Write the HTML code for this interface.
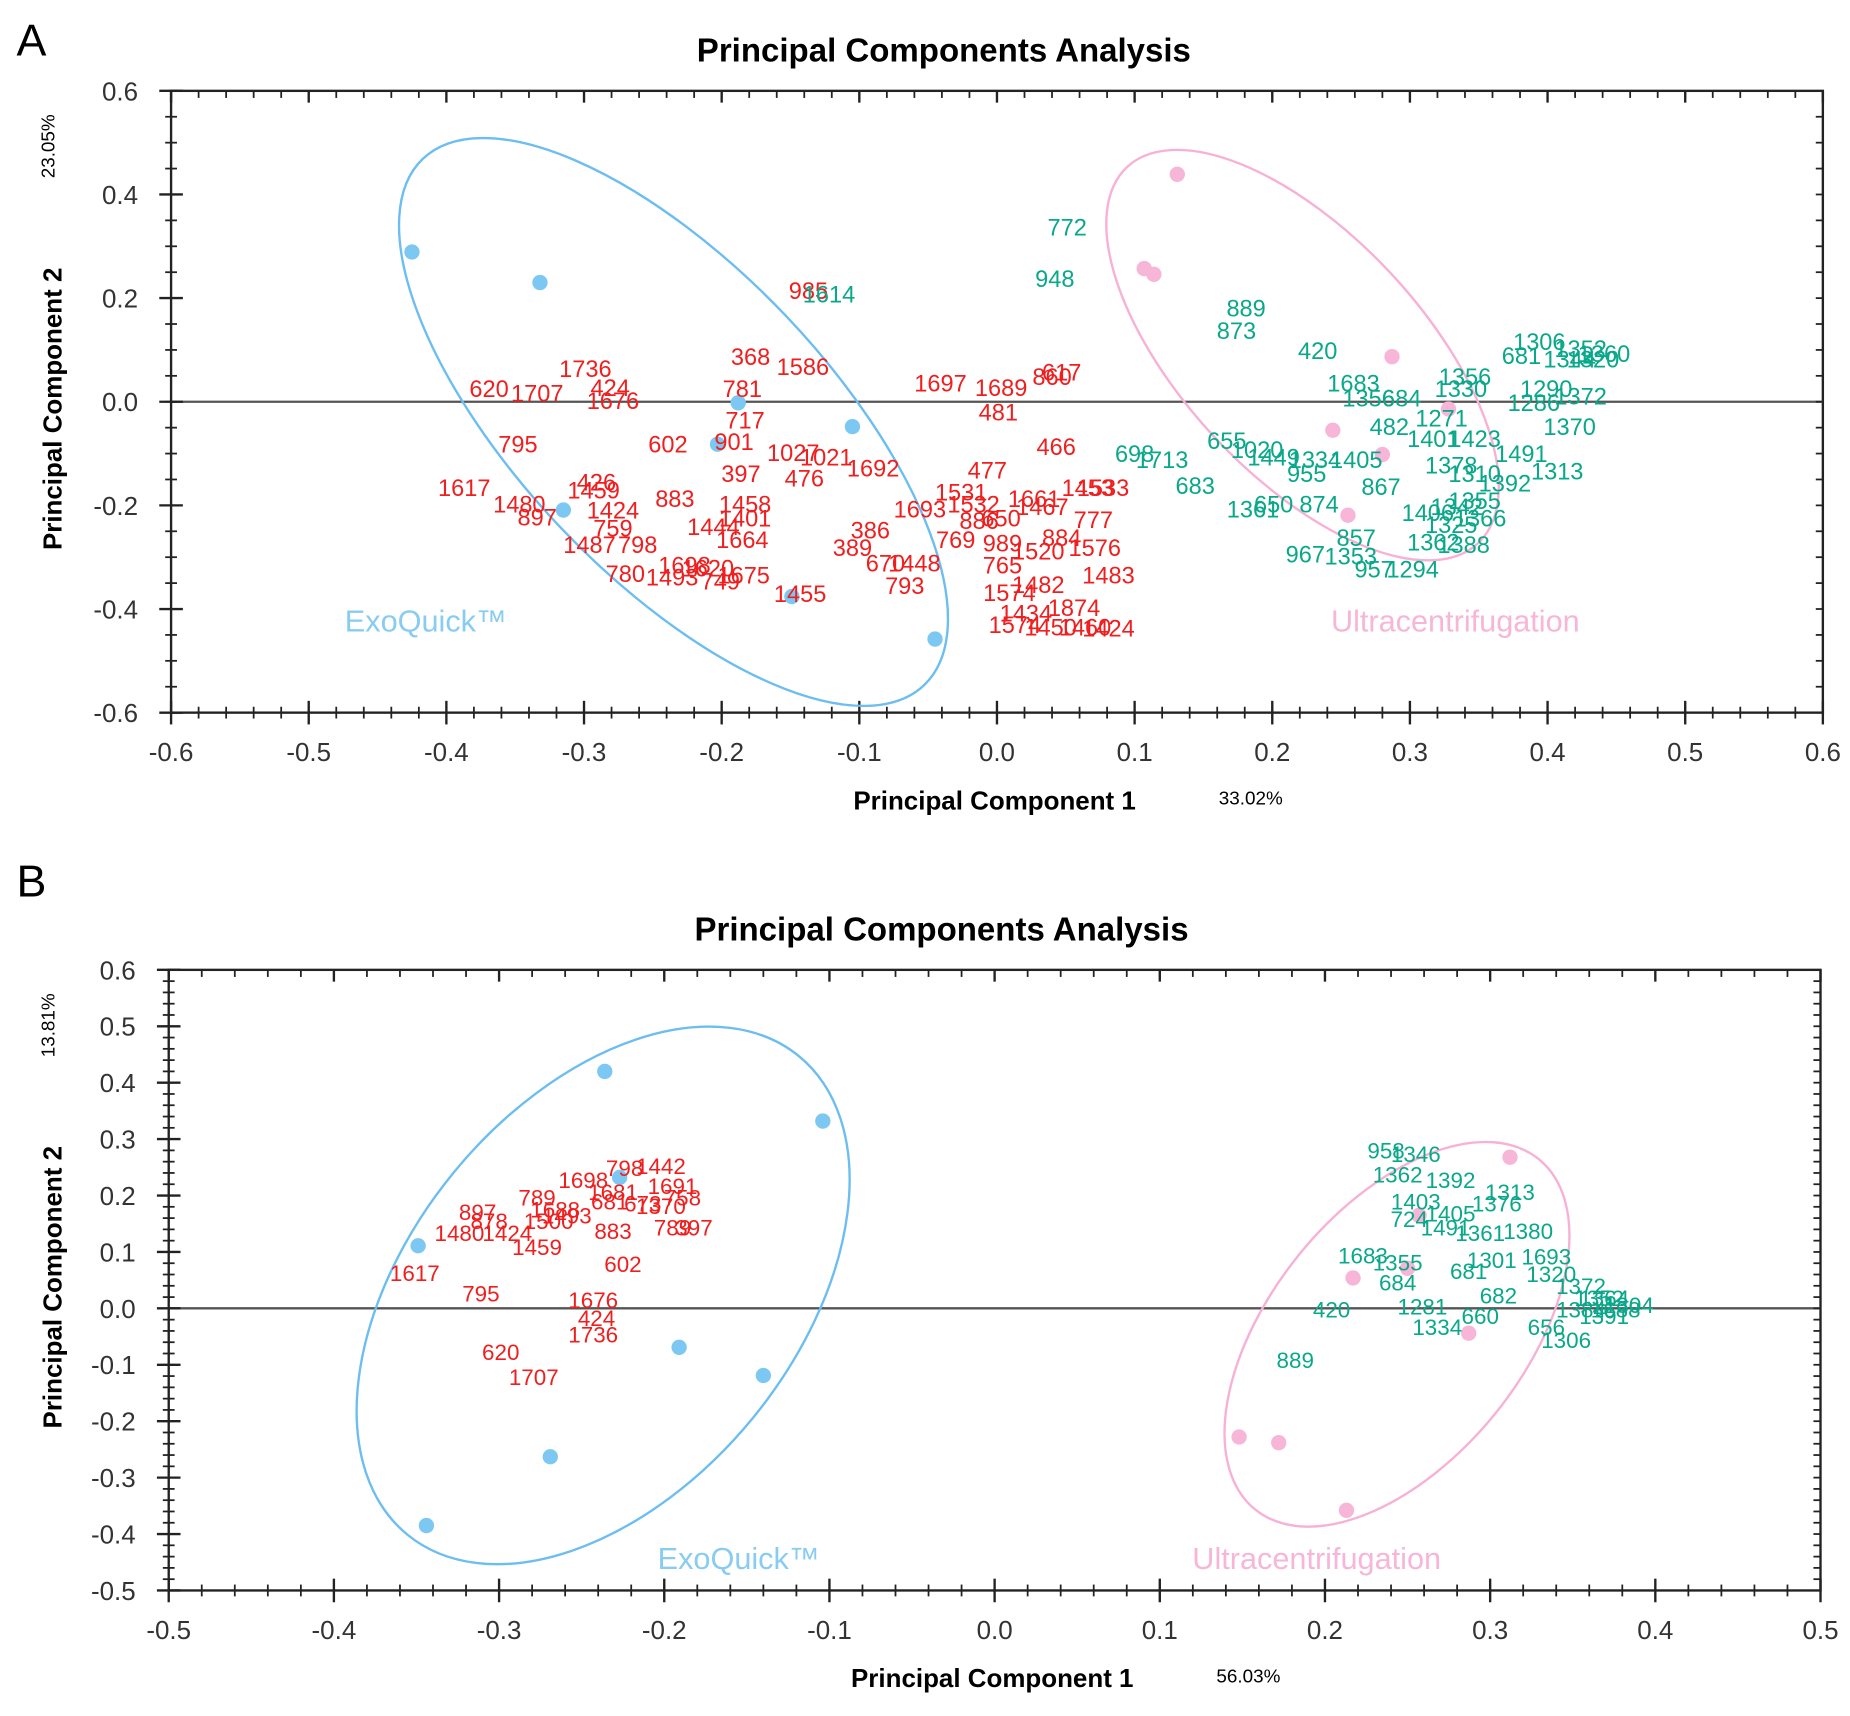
<!DOCTYPE html>
<html><head><meta charset="utf-8">
<style>
html,body{margin:0;padding:0;background:#fff;}
svg{display:block;}
text{font-family:"Liberation Sans",Arial,sans-serif;}
</style></head>
<body>
<svg id="chart" width="1850" height="1716" viewBox="0 0 1568 1454.4" preserveAspectRatio="none" xmlns="http://www.w3.org/2000/svg">
<text x="14" y="47" font-size="38" fill="#000">A</text>
<text x="14" y="760" font-size="38" fill="#000">B</text>
</svg>
<script>
// ---------- Panel A data ----------
const aRedLabels = ["985","368","1586","1736","620","1707","424","1676","781","717","795","602","901","1027","1021","1692","397","476","1617","1480","897","426","1459","1424","883","1458","1401","1444","1664","759","1487","798","780","1493","1698","1620","1675","749","1455","386","389","670","1448","793","1693","1531","1532","886","650","769","477","466","1697","1689","617","860","481","1661","1467","1453","1533","777","989","1520","884","1576","765","1482","1483","1574","1434","1874","1574","1450","1460","1424"];
const aRedX = [-0.137,-0.179,-0.141,-0.299,-0.369,-0.334,-0.281,-0.279,-0.185,-0.183,-0.348,-0.239,-0.191,-0.148,-0.124,-0.090,-0.186,-0.140,-0.387,-0.347,-0.334,-0.291,-0.293,-0.279,-0.234,-0.183,-0.183,-0.206,-0.185,-0.279,-0.296,-0.261,-0.270,-0.236,-0.227,-0.210,-0.184,-0.201,-0.143,-0.092,-0.105,-0.081,-0.060,-0.067,-0.056,-0.026,-0.017,-0.013,0.003,-0.030,-0.007,0.043,-0.041,0.003,0.047,0.040,0.001,0.027,0.033,0.066,0.077,0.070,0.004,0.030,0.047,0.071,0.004,0.030,0.081,0.009,0.021,0.056,0.013,0.039,0.064,0.081];
const aRedY = [0.214,0.087,0.068,0.064,0.025,0.016,0.027,0.002,0.025,-0.036,-0.082,-0.082,-0.077,-0.098,-0.107,-0.128,-0.139,-0.148,-0.166,-0.198,-0.223,-0.155,-0.171,-0.209,-0.187,-0.198,-0.225,-0.241,-0.266,-0.244,-0.276,-0.276,-0.332,-0.339,-0.316,-0.321,-0.335,-0.346,-0.371,-0.248,-0.282,-0.312,-0.312,-0.355,-0.207,-0.175,-0.198,-0.230,-0.225,-0.266,-0.132,-0.087,0.036,0.027,0.057,0.048,-0.020,-0.187,-0.203,-0.166,-0.166,-0.228,-0.273,-0.289,-0.262,-0.282,-0.316,-0.353,-0.335,-0.369,-0.408,-0.398,-0.430,-0.435,-0.435,-0.437];
const aGreenLabels = ["1614","772","948","889","873","420","1683","1356","684","1356","1330","482","1271","1370","1306","681","1352","1360","1344","1320","1372","1286","1290","1401","1423","1491","1313","1378","1392","1310","698","1713","655","1020","1449","1334","955","1405","683","867","1361","650","874","857","967","1353","957","1294","1362","1388","1406","1342","1366","1325","1355"];
const aGreenX = [-0.122,0.051,0.042,0.181,0.174,0.233,0.259,0.270,0.294,0.340,0.337,0.285,0.323,0.416,0.394,0.381,0.424,0.441,0.416,0.433,0.424,0.390,0.399,0.317,0.347,0.381,0.407,0.330,0.369,0.347,0.100,0.120,0.167,0.189,0.201,0.231,0.225,0.261,0.144,0.279,0.186,0.201,0.234,0.261,0.224,0.257,0.274,0.302,0.317,0.339,0.313,0.334,0.351,0.330,0.347];
const aGreenY = [0.207,0.337,0.237,0.180,0.137,0.098,0.036,0.007,0.007,0.048,0.025,-0.048,-0.032,-0.048,0.116,0.089,0.102,0.093,0.082,0.082,0.011,-0.002,0.025,-0.071,-0.071,-0.100,-0.134,-0.123,-0.157,-0.139,-0.100,-0.112,-0.075,-0.093,-0.107,-0.112,-0.139,-0.112,-0.162,-0.164,-0.207,-0.198,-0.198,-0.262,-0.294,-0.298,-0.323,-0.323,-0.271,-0.276,-0.214,-0.203,-0.225,-0.237,-0.191];
const aBlueX = [-0.425,-0.332,-0.315,-0.203,-0.188,-0.105,-0.149,-0.045];
const aBlueY = [0.289,0.230,-0.209,-0.082,-0.002,-0.048,-0.376,-0.458];
const aPinkX = [0.131,0.107,0.114,0.287,0.244,0.280,0.255,0.328];
const aPinkY = [0.439,0.257,0.246,0.087,-0.055,-0.102,-0.219,-0.014];
const aXTicks = [-0.6,-0.5,-0.4,-0.3,-0.2,-0.1,0.0,0.1,0.2,0.3,0.4,0.5,0.6];
const aYTicks = [-0.6,-0.4,-0.2,0.0,0.2,0.4,0.6];

// ---------- Panel B data ----------
const bRedLabels = ["798","1442","1698","1681","1691","758","681","673","1370","789","1688","1493","1500","897","878","1480","1424","1459","883","789","397","602","1617","795","1676","424","1736","620","1707"];
const bRedX = [-0.224,-0.202,-0.249,-0.231,-0.195,-0.189,-0.233,-0.213,-0.202,-0.277,-0.266,-0.259,-0.270,-0.313,-0.306,-0.324,-0.295,-0.277,-0.231,-0.195,-0.182,-0.225,-0.351,-0.311,-0.243,-0.241,-0.243,-0.299,-0.279];
const bRedY = [0.249,0.253,0.228,0.207,0.217,0.197,0.190,0.186,0.182,0.197,0.176,0.165,0.155,0.171,0.155,0.134,0.134,0.109,0.138,0.144,0.144,0.079,0.063,0.027,0.015,-0.017,-0.046,-0.077,-0.121];
const bGreenLabels = ["958","1346","1392","1313","1376","1362","1403","1405","724","1491","1361","1380","1683","1355","684","1301","1693","681","1320","682","420","1281","660","1334","1372","1352","1306","1688","1364","1304","656","1384","1391","889"];
const bGreenX = [0.237,0.255,0.276,0.312,0.304,0.244,0.255,0.276,0.251,0.273,0.294,0.323,0.223,0.244,0.244,0.301,0.334,0.287,0.337,0.305,0.204,0.259,0.294,0.268,0.355,0.366,0.346,0.376,0.369,0.384,0.334,0.355,0.369,0.182];
const bGreenY = [0.280,0.274,0.228,0.207,0.186,0.238,0.190,0.169,0.159,0.144,0.134,0.138,0.094,0.082,0.046,0.086,0.092,0.067,0.061,0.023,-0.002,0.004,-0.013,-0.033,0.040,0.019,-0.056,-0.002,0.019,0.006,-0.033,-0.002,-0.013,-0.091];
const bBlueX = [-0.236,-0.104,-0.349,-0.227,-0.191,-0.140,-0.269,-0.344];
const bBlueY = [0.420,0.332,0.111,0.232,-0.069,-0.119,-0.263,-0.385];
const bPinkX = [0.312,0.257,0.250,0.217,0.287,0.148,0.172,0.213];
const bPinkY = [0.268,0.165,0.071,0.054,-0.044,-0.228,-0.238,-0.358];
const bXTicks = [-0.5,-0.4,-0.3,-0.2,-0.1,0.0,0.1,0.2,0.3,0.4,0.5];
const bYTicks = [-0.5,-0.4,-0.3,-0.2,-0.1,0.0,0.1,0.2,0.3,0.4,0.5,0.6];

const NS = "http://www.w3.org/2000/svg";
const svg = document.getElementById('chart');
function mk(tag, attrs, parent){
  const e = document.createElementNS(NS, tag);
  for (const k in attrs) e.setAttribute(k, attrs[k]);
  (parent||svg).appendChild(e);
  return e;
}

function drawPanel(p){
  const g = mk('g', {});
  
  
  const sx = v => p.left + (v - p.xmin) / (p.xmax - p.xmin) * (p.right - p.left);
  const sy = v => p.bottom - (v - p.ymin) / (p.ymax - p.ymin) * (p.bottom - p.top);

  const t = mk('text', {x:(p.left+p.right)/2 - 45, y:p.top-25, 'font-size':28, 'font-weight':'bold', 'text-anchor':'middle', fill:'#000'}, g);
  t.textContent = 'Principal Components Analysis';
  
  

  const fr = mk('rect', {x:p.left, y:p.top, width:p.right-p.left, height:p.bottom-p.top, fill:'none', stroke:'#222', 'stroke-width':2}, g);
  
  

  const z = mk('line', {x1:p.left, x2:p.right, y1:sy(0), y2:sy(0), stroke:'#555', 'stroke-width':2}, g);
  
  

  const nx = Math.round((p.xmax - p.xmin) / p.xminor);
  for (let i = 0; i <= nx; i++) {
    const v = p.xmin + i * p.xminor, X = sx(v);
    mk('line', {x1:X, x2:X, y1:p.bottom-5, y2:p.bottom+5, stroke:'#222', 'stroke-width':1.5}, g);
    mk('line', {x1:X, x2:X, y1:p.top, y2:p.top+6, stroke:'#222', 'stroke-width':1.5}, g);
  }
  const ny = Math.round((p.ymax - p.ymin) / p.yminor);
  for (let i = 0; i <= ny; i++) {
    const v = p.ymin + i * p.yminor, Y = sy(v);
    mk('line', {x1:p.left-5, x2:p.left+5, y1:Y, y2:Y, stroke:'#222', 'stroke-width':1.5}, g);
    mk('line', {x1:p.right-6, x2:p.right, y1:Y, y2:Y, stroke:'#222', 'stroke-width':1.5}, g);
  }
  p.xticks.forEach(v => {
    const X = sx(v);
    mk('line', {x1:X, x2:X, y1:p.bottom-10, y2:p.bottom+10, stroke:'#222', 'stroke-width':2}, g);
    mk('line', {x1:X, x2:X, y1:p.top, y2:p.top+10, stroke:'#222', 'stroke-width':2}, g);
    const l = mk('text', {x:X, y:p.bottom+41, 'font-size':22, 'text-anchor':'middle', fill:'#333'}, g);
    l.textContent = v.toFixed(1);
    
    
  });
  p.yticks.forEach(v => {
    const Y = sy(v);
    mk('line', {x1:p.left-10, x2:p.left+10, y1:Y, y2:Y, stroke:'#222', 'stroke-width':2}, g);
    const l = mk('text', {x:p.left-28, y:Y+8, 'font-size':22, 'text-anchor':'end', fill:'#333'}, g);
    l.textContent = v.toFixed(1);
    
    
  });

  const xt = mk('text', {x:(p.left+p.right)/2 - 2, y:p.bottom+82, 'font-size':22, 'font-weight':'bold', 'text-anchor':'middle', fill:'#000'}, g);
  xt.textContent = 'Principal Component 1';
  
  
  const xp = mk('text', {x:p.left+888, y:p.bottom+78, 'font-size':16, fill:'#000'}, g);
  xp.textContent = p.xpct;
  
  
  const yc = (p.top + p.bottom) / 2;
  const yt = mk('text', {x:0, y:0, 'font-size':22, 'font-weight':'bold', 'text-anchor':'middle', fill:'#000', transform:'translate(52,'+(yc+6)+') rotate(-90)'}, g);
  yt.textContent = 'Principal Component 2';
  
  
  const yp = mk('text', {x:0, y:0, 'font-size':16, 'text-anchor':'middle', fill:'#000', transform:'translate(46,'+(p.top+47)+') rotate(-90)'}, g);
  yp.textContent = p.ypct;
  
  

  p.ellipses.forEach(el => {
    const cx = sx(el.cx), cy = sy(el.cy);
    const e = mk('ellipse', {cx:cx, cy:cy, rx:el.a, ry:el.b, fill:'none', stroke:el.color, 'stroke-width':2, transform:'rotate('+el.ang+' '+cx+' '+cy+')'}, g);
    
    
  });

  p.blueX.forEach((v, i) => {
    const c = mk('circle', {cx:sx(v), cy:sy(p.blueY[i]), r:6.5, fill:'#7cc8f2'}, g);
    
    
  });
  p.pinkX.forEach((v, i) => {
    const c = mk('circle', {cx:sx(v), cy:sy(p.pinkY[i]), r:6.5, fill:'#f7b6d8'}, g);
    
    
  });

  p.redL.forEach((s, i) => {
    const l = mk('text', {x:sx(p.redX[i]), y:sy(p.redY[i])+7, 'font-size':p.lfs, 'text-anchor':'middle', fill:'#f01e1e'}, g);
    l.textContent = s;
    
    
  });
  p.greenL.forEach((s, i) => {
    const l = mk('text', {x:sx(p.greenX[i]), y:sy(p.greenY[i])+7, 'font-size':p.lfs, 'text-anchor':'middle', fill:'#0aa88a'}, g);
    l.textContent = s;
    
    
  });

  p.groups.forEach(gr => {
    const l = mk('text', {x:sx(gr.x), y:sy(gr.y), 'font-size':26, 'text-anchor':'middle', fill:gr.color}, g);
    l.textContent = gr.text;
    
    
  });
}

drawPanel({
  id:'panel-a', left:145, right:1545, top:77, bottom:604,
  xmin:-0.6, xmax:0.6, ymin:-0.6, ymax:0.6, xminor:0.02, yminor:0.05,
  xticks:aXTicks, yticks:aYTicks, xpct:'33.02%', ypct:'23.05%', lfs:20,
  redL:aRedLabels, redX:aRedX, redY:aRedY,
  greenL:aGreenLabels, greenX:aGreenX, greenY:aGreenY,
  blueX:aBlueX, blueY:aBlueY, pinkX:aPinkX, pinkY:aPinkY,
  ellipses:[
    {cx:-0.235, cy:-0.039, a:308, b:131, ang:46.4, color:'#6cbdf0', name:'exoquick-ellipse'},
    {cx:0.222, cy:0.09, a:218, b:102, ang:47, color:'#f7b1d6', name:'ultracentrifugation-ellipse'}
  ],
  groups:[
    {x:-0.415, y:-0.443, text:'ExoQuick\u2122', color:'#88ccf2', name:'exoquick-group-label'},
    {x:0.333, y:-0.443, text:'Ultracentrifugation', color:'#f7b6d8', name:'ultracentrifugation-group-label'}
  ]
});

drawPanel({
  id:'panel-b', left:143, right:1543, top:822, bottom:1348,
  xmin:-0.5, xmax:0.5, ymin:-0.5, ymax:0.6, xminor:0.02, yminor:0.02,
  xticks:bXTicks, yticks:bYTicks, xpct:'56.03%', ypct:'13.81%', lfs:19,
  redL:bRedLabels, redX:bRedX, redY:bRedY,
  greenL:bGreenLabels, greenX:bGreenX, greenY:bGreenY,
  blueX:bBlueX, blueY:bBlueY, pinkX:bPinkX, pinkY:bPinkY,
  ellipses:[
    {cx:-0.237, cy:0.023, a:262, b:164, ang:129.3, color:'#6cbdf0', name:'exoquick-ellipse'},
    {cx:0.2436, cy:-0.046, a:191, b:107, ang:129, color:'#f7b1d6', name:'ultracentrifugation-ellipse'}
  ],
  groups:[
    {x:-0.155, y:-0.462, text:'ExoQuick\u2122', color:'#88ccf2', name:'exoquick-group-label'},
    {x:0.195, y:-0.462, text:'Ultracentrifugation', color:'#f7b6d8', name:'ultracentrifugation-group-label'}
  ]
});
</script>
</body></html>
